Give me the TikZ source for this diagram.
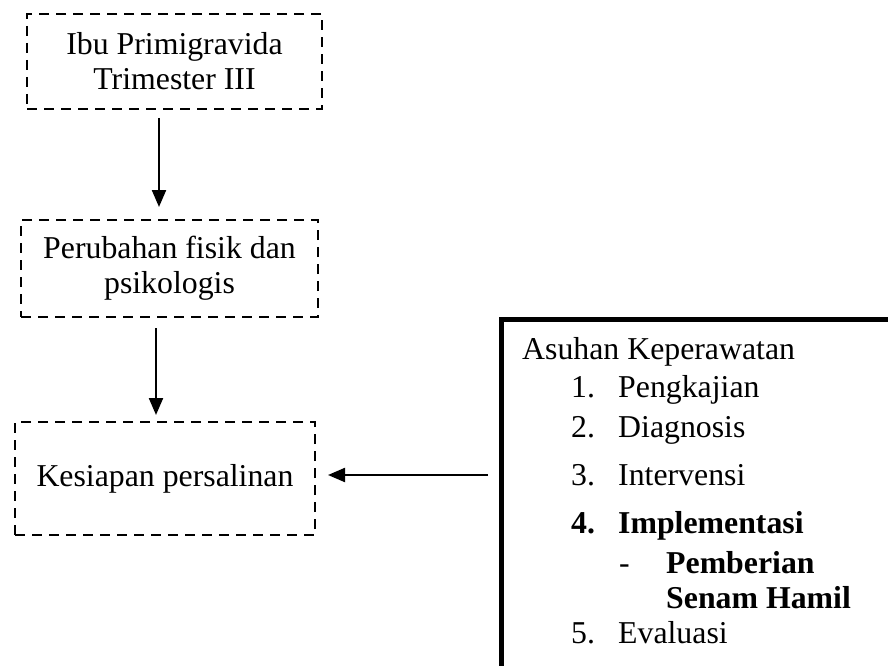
\documentclass[tikz,border=0pt]{standalone}
\usepackage{fontspec}
\setmainfont{Liberation Serif}
\usetikzlibrary{arrows.meta}
\begin{document}
\begin{tikzpicture}[x=1pt,y=-1pt,
  dbox/.style={draw=black,line width=2.8pt,dash pattern=on 10pt off 7pt,inner sep=0pt,align=center,font=\fontsize{31.8}{35}\selectfont},
  arr/.style={line width=2.2pt,-{Triangle[length=17pt,width=14pt]}},
  txt/.style={anchor=base west,inner sep=0pt,font=\fontsize{31.8}{35}\selectfont}]
\useasboundingbox (0,0) rectangle (888,666);
\clip (0,0) rectangle (888,666);
\fill[white] (0,0) rectangle (888,666);
\node[dbox,minimum width=295pt,minimum height=95pt] (b1) at (174.5,61.5) {Ibu Primigravida\\Trimester III};
\node[dbox,minimum width=297pt,minimum height=97pt] (b2) at (169.5,268.5) {Perubahan fisik dan\\psikologis};
\node[dbox,minimum width=300pt,minimum height=113pt] (b3) at (165,478.5) {Kesiapan persalinan};
\node[draw=black,line width=4.5pt,anchor=north west,minimum width=420pt,minimum height=380pt,inner sep=0pt] (rb) at (499,317) {};
\coordinate (a1s) at (159,118);
\coordinate (a1e) at (159,207);
\coordinate (a2s) at (156,328);
\coordinate (a2e) at (156,415);
\coordinate (a3s) at (488,475);
\coordinate (a3e) at (328,475);
\draw[arr] (a1s) -- (a1e);
\draw[arr] (a2s) -- (a2e);
\draw[arr] (a3s) -- (a3e);
\node[txt] (t0) at (522,359) {Asuhan Keperawatan};
\node[txt] (n1) at (571,397) {1.};
\node[txt] (t1) at (618,397) {Pengkajian};
\node[txt] (n2) at (571,437) {2.};
\node[txt] (t2) at (618,437) {Diagnosis};
\node[txt] (n3) at (571,485) {3.};
\node[txt] (t3) at (618,485) {Intervensi};
\node[txt] (n4) at (571,533) {\bfseries 4.};
\node[txt] (t4) at (618,533) {\bfseries Implementasi};
\node[txt] (d5) at (619,573) {-};
\node[txt] (t5) at (666,573) {\bfseries Pemberian};
\node[txt] (t6) at (666,608) {\bfseries Senam Hamil};
\node[txt] (n7) at (571,643) {5.};
\node[txt] (t7) at (618,643) {Evaluasi};
\end{tikzpicture}
\end{document}
